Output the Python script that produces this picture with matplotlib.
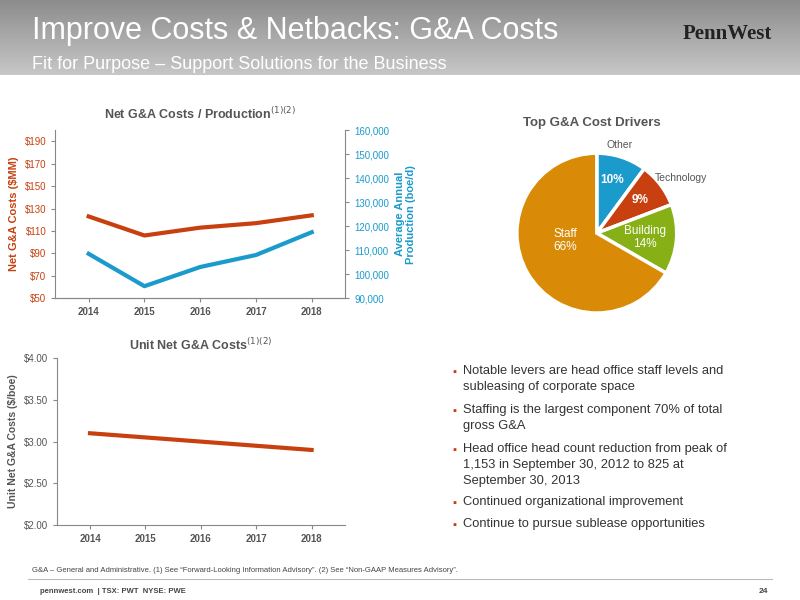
import matplotlib.pyplot as plt
import numpy as np

years = ["2014", "2015", "2016", "2017", "2018"]
net_ga = [123, 106, 113, 117, 124]
production = [108500, 95000, 103000, 108000, 117500]
unit_ga = [3.10, 3.05, 3.00, 2.95, 2.90]

pie_labels = ["Other", "Technology", "Building", "Staff"]
pie_values = [10, 9, 14, 66]
pie_colors = ["#1a9bcb", "#c8400f", "#86b015", "#d98b07"]

bullets = [
    "Notable levers are head office staff levels and\nsubleasing of corporate space",
    "Staffing is the largest component 70% of total\ngross G&A",
    "Head office head count reduction from peak of\n1,153 in September 30, 2012 to 825 at\nSeptember 30, 2013",
    "Continued organizational improvement",
    "Continue to pursue sublease opportunities",
]

orange = "#c8400f"
blue = "#1a9bcb"
grey = "#555555"

plt.rcParams['font.family'] = ['Liberation Sans', 'DejaVu Sans']
fig = plt.figure(figsize=(8, 6), dpi=100)

# header band
hdr = fig.add_axes([0, 1 - 75 / 600, 1, 75 / 600])
grad = np.linspace(0.55, 0.78, 100).reshape(-1, 1)
hdr.imshow(grad, cmap="gray", aspect="auto", extent=[0, 1, 0, 1], vmin=0, vmax=1)
hdr.axis("off")
fig.text(0.04, 0.935, "Improve Costs & Netbacks: G&A Costs", color="white", fontsize=22)
fig.text(0.04, 0.885, "Fit for Purpose \u2013 Support Solutions for the Business", color="white", fontsize=13)
fig.text(0.965, 0.935, "PennWest", color="#222222", fontsize=15, fontweight="bold",
         family=["Liberation Serif"], ha="right")

x = np.arange(len(years))

# top chart
ax1 = fig.add_axes([0.069, 0.503, 0.3625, 0.28])
ax1.plot(x, net_ga, color=orange, lw=3)
ax1.set_ylim(50, 200)
ax1.set_yticks(range(50, 191, 20))
ax1.set_yticklabels(["${}".format(v) for v in range(50, 191, 20)], color=orange, fontsize=7)
ax1.set_ylabel("Net G&A Costs ($MM)", color=orange, fontsize=8, fontweight="bold")
ax1.set_xlim(-0.6, 4.6)
ax1.set_xticks(x)
ax1.set_xticklabels(years, fontsize=7, fontweight="bold", color=grey)
ax2 = ax1.twinx()
ax2.plot(x, production, color=blue, lw=3)
ax2.set_ylim(90000, 160000)
ax2.set_yticks(range(90000, 160001, 10000))
ax2.set_yticklabels(["{:,}".format(v) for v in range(90000, 160001, 10000)], color=blue, fontsize=7)
ax2.set_ylabel("Average Annual\nProduction (boe/d)", color=blue, fontsize=8, fontweight="bold")
for a in (ax1, ax2):
    a.spines["top"].set_visible(False)
    a.spines["left"].set_color("#888888")
    a.spines["right"].set_color("#888888")
    a.spines["bottom"].set_color("#888888")
    a.tick_params(length=3, color="#888888")
ax2.spines["left"].set_visible(False)
ax1.spines["right"].set_visible(False)
ax1.set_title("Net G&A Costs / Production$^{(1)(2)}$", fontsize=9, fontweight="bold", color=grey, pad=8)

# bottom chart
ax3 = fig.add_axes([0.071, 0.125, 0.36, 0.278])
ax3.plot(x, unit_ga, color=orange, lw=3)
ax3.set_ylim(2.0, 4.0)
ax3.set_yticks([2.0, 2.5, 3.0, 3.5, 4.0])
ax3.set_yticklabels(["${:.2f}".format(v) for v in [2.0, 2.5, 3.0, 3.5, 4.0]], fontsize=7, color=grey)
ax3.set_ylabel("Unit Net G&A Costs ($/boe)", fontsize=7.5, fontweight="bold", color=grey)
ax3.set_xlim(-0.6, 4.6)
ax3.set_xticks(x)
ax3.set_xticklabels(years, fontsize=7, fontweight="bold", color=grey)
for s in ("top", "right"):
    ax3.spines[s].set_visible(False)
ax3.spines["left"].set_color("#888888")
ax3.spines["bottom"].set_color("#888888")
ax3.tick_params(length=3, color="#888888")
ax3.set_title("Unit Net G&A Costs$^{(1)(2)}$", fontsize=9, fontweight="bold", color=grey, pad=6)

# pie
ax4 = fig.add_axes([0.621, 0.445, 0.25, 0.333])
wedges, _ = ax4.pie(pie_values, colors=pie_colors, startangle=90, counterclock=False,
                    wedgeprops=dict(edgecolor="white", linewidth=2.5))
ax4.set_xlim(-1.25, 1.25)
ax4.set_ylim(-1.25, 1.25)
ax4.set_aspect("equal")
ax4.text(0.19, 0.66, "10%", color="white", fontsize=8.5, fontweight="bold", ha="center", va="center")
ax4.text(0.54, 0.41, "9%", color="white", fontsize=8.5, fontweight="bold", ha="center", va="center")
ax4.text(0.6, -0.05, "Building\n14%", color="white", fontsize=8.5, ha="center", va="center", linespacing=1.1)
ax4.text(-0.39, -0.09, "Staff\n66%", color="white", fontsize=8.5, ha="center", va="center", linespacing=1.1)
ax4.text(0.28, 1.04, "Other", color=grey, fontsize=7.5, ha="center", va="bottom")
ax4.text(0.72, 0.69, "Technology", color=grey, fontsize=7.5, ha="left", va="center")
fig.text(0.74, 0.79, "Top G&A Cost Drivers", fontsize=9.5, fontweight="bold", color=grey, ha="center")

# bullets (first-line centre, px from top)
pos = [372, 411, 450, 503, 525]
for b, p in zip(bullets, pos):
    y = 1 - p / 600
    fig.text(0.565, y, "\u25aa", color=orange, fontsize=8, va="center")
    fig.text(0.579, y + 0.012, b, color="#333333", fontsize=9.3, va="top", linespacing=1.45)

# footer
fig.text(0.04, 0.047, "G&A \u2013 General and Administrative. (1) See \u201cForward-Looking Information Advisory\u201d. (2) See \u201cNon-GAAP Measures Advisory\u201d.",
         fontsize=5.5, color="#444444")
fig.add_artist(plt.Line2D([0.035, 0.965], [0.035, 0.035], color="#bbbbbb", lw=0.8))
fig.text(0.05, 0.012, "pennwest.com  | TSX: PWT  NYSE: PWE", fontsize=5.5, color="#444444", fontweight="bold")
fig.text(0.96, 0.012, "24", fontsize=6, color="#444444", fontweight="bold", ha="right")

fig.savefig("out.png", dpi=100)
